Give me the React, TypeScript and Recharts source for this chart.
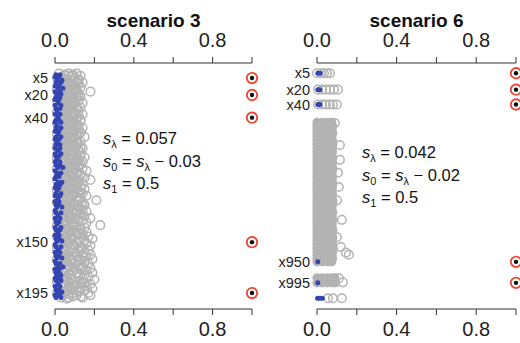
import React from 'react';
import { ScatterChart, Scatter, XAxis, YAxis, Customized } from 'recharts';

const FONT = '"Liberation Sans", Arial, Helvetica, sans-serif';
const GRAY = '#b3b3b3';
const BLUE = '#3444b0';
const RED = '#ec4a36';
const AXIS = '#333333';

// x axis (shared by both panels)
const xTicks = [0, 0.2, 0.4, 0.6, 0.8, 1];
const xTickLabels = ['0.0', '', '0.4', '', '0.8', ''];

// ---------- scenario 3 ----------
const s3TickRows = [5, 20, 40, 150, 195];
const s3TickLabels = ['x5', 'x20', 'x40', 'x150', 'x195'];
const s3SignalRows = [5, 20, 40, 150, 195];
// [variable index, estimates in hundredths...]
const s3Gray = [
  [1, 2, 7, 11], [3, 5, 9, 13], [5, 1, 4, 10], [7, 3, 8, 12], [9, 6, 11, 14],
  [11, 2, 5, 9], [13, 4, 8, 13], [15, 1, 7, 11], [17, 3, 10, 18], [19, 5, 8, 12],
  [21, 2, 6, 13], [23, 4, 9, 11], [25, 1, 7, 12], [27, 6, 10, 14], [29, 3, 5, 9],
  [31, 2, 8, 13], [33, 5, 7, 11], [35, 1, 4, 10], [37, 3, 9, 14], [39, 6, 8, 12],
  [41, 2, 5, 11], [43, 4, 10, 13], [45, 1, 7, 9], [47, 3, 8, 12], [49, 5, 11, 14],
  [51, 2, 6, 10], [53, 4, 9, 13], [55, 1, 7, 12], [57, 6, 8, 15], [59, 3, 5, 11],
  [61, 2, 9, 13], [63, 5, 7, 12], [65, 1, 4, 10], [67, 3, 10, 14], [69, 6, 8, 12],
  [71, 2, 5, 13], [73, 4, 9, 11], [75, 1, 7, 15], [77, 3, 8, 12], [79, 5, 11, 14],
  [81, 2, 6, 13], [83, 4, 10, 12], [85, 1, 7, 14], [87, 6, 9, 16], [89, 3, 5, 11],
  [91, 2, 8, 13], [93, 5, 10, 15], [95, 1, 7, 18], [97, 3, 9, 12], [99, 6, 11, 14],
  [101, 2, 5, 13], [103, 4, 8, 15], [105, 1, 10, 12], [107, 3, 7, 14], [109, 5, 9, 16],
  [111, 2, 6, 13], [113, 4, 11, 21], [115, 1, 8, 14], [117, 6, 10, 15], [119, 3, 5, 12],
  [121, 2, 9, 14], [123, 5, 7, 16], [125, 1, 11, 13], [127, 3, 8, 15], [129, 6, 10, 18],
  [131, 2, 5, 14], [133, 4, 9, 16], [135, 1, 12, 23], [137, 3, 7, 15], [139, 5, 10, 13],
  [141, 2, 8, 16], [143, 4, 11, 14], [145, 1, 6, 17], [147, 3, 9, 19], [149, 6, 12, 15],
  [151, 2, 7, 16], [153, 4, 10, 18], [155, 1, 8, 14], [157, 5, 13, 17], [159, 3, 9, 15],
  [161, 2, 6, 18], [163, 4, 11, 16], [165, 1, 8, 19], [167, 6, 12, 15], [169, 3, 10, 17],
  [171, 2, 7, 14], [173, 5, 13, 18], [175, 1, 9, 16], [177, 4, 11, 19], [179, 3, 8, 15],
  [181, 2, 12, 17], [183, 5, 9, 20], [185, 1, 7, 14], [187, 4, 13, 18], [189, 3, 10, 16],
  [191, 2, 8, 19], [193, 6, 12, 15], [195, 1, 9, 17], [197, 4, 11, 18], [199, 3, 7, 14],
];
const s3GrayExtra = [
  [2, 5, 9], [4, 8], [6, 6, 12], [8, 5], [10, 8, 12], [12, 7], [14, 5, 10], [16, 9], [18, 6, 11], [20, 7],
  [22, 9, 12], [24, 6], [26, 4, 9], [28, 8], [30, 6, 11], [32, 5], [34, 7, 12], [36, 6], [38, 4, 10], [40, 7],
  [42, 8, 13], [44, 6], [46, 5, 11], [48, 9], [50, 7, 12], [52, 4], [54, 6, 11], [56, 9], [58, 5, 10], [60, 7],
  [62, 6, 11], [64, 9], [66, 7, 13], [68, 5], [70, 4, 10], [72, 8], [74, 6, 13], [76, 9], [78, 5, 11], [80, 7],
  [82, 9, 12], [84, 6], [86, 4, 10], [88, 8], [90, 7, 13], [92, 5], [94, 8, 12], [96, 6], [98, 4, 9], [100, 8],
  [102, 7, 11], [104, 5], [106, 6, 13], [108, 9], [110, 4, 11], [112, 8], [114, 6, 12], [116, 5], [118, 8, 14], [120, 7],
  [122, 5, 11], [124, 9], [126, 7, 14], [128, 5], [130, 8, 12], [132, 6], [134, 4, 10], [136, 9], [138, 6, 13], [140, 7],
  [142, 5, 12], [144, 8], [146, 9, 14], [148, 6], [150, 4, 11], [152, 9], [154, 6, 13], [156, 8], [158, 5, 12], [160, 10],
  [162, 7, 14], [164, 5], [166, 9, 13], [168, 6], [170, 4, 12], [172, 8], [174, 6, 14], [176, 9], [178, 7, 12], [180, 5],
  [182, 8, 14], [184, 6], [186, 9, 15], [188, 5], [190, 7, 13], [192, 9], [194, 5, 12], [196, 7], [198, 9, 13], [200, 6],
];
const s3Blue = [
  [2, 0.5, 2.5], [4, 0, 2], [7, 1, 3.5], [9, 0.5, 3], [12, 0, 2], [14, 1.5, 4], [17, 0, 2.5], [19, 1, 3], [22, 0.5, 2.5], [24, 0, 2],
  [27, 1.5], [29, 0, 3], [32, 0.5, 2.5], [34, 1], [37, 0, 2.5], [39, 1.5], [42, 0.5, 2], [44, 0, 3], [47, 1], [49, 0.5, 3],
  [52, 0, 2], [54, 1.5], [57, 0.5, 3], [59, 0, 2], [62, 1], [64, 0.5, 2.5], [67, 0, 2.5], [69, 1.5], [72, 0, 3], [74, 0.5, 2],
  [77, 1], [79, 0, 2.5], [82, 0.5, 2.5], [84, 1.5, 4], [87, 0], [89, 1, 3], [92, 0.5, 2], [94, 0], [97, 1.5, 3.5], [99, 0.5, 2.5],
  [102, 0, 2], [104, 1], [107, 0.5, 3], [109, 0, 2.5], [112, 1.5], [114, 0, 2], [117, 0.5, 2], [119, 1, 3.5], [122, 0], [124, 0.5, 3],
  [127, 1.5], [129, 0, 2.5], [132, 0.5, 2], [134, 1], [137, 0, 3], [139, 0.5, 2.5], [142, 1.5], [144, 0, 2], [147, 0.5, 2], [149, 1, 3.5],
  [152, 0], [154, 0.5, 3], [157, 1.5], [159, 0, 2.5], [162, 0.5, 2], [164, 1, 3.5], [167, 0], [169, 0.5, 2.5], [172, 1.5, 4], [174, 0, 2],
  [177, 0.5, 2], [179, 1, 3], [182, 0, 2.5], [184, 0.5, 3], [187, 1.5], [189, 0, 2.5], [192, 0.5, 2], [194, 1, 3.5], [197, 0, 2.5], [199, 0.5, 3],
];
const s3Lambda = ['0.057'];
const s3Offset = ['0.03'];
const s3S1 = ['0.5'];

// ---------- scenario 6 (plotted row positions) ----------
const s6TickRows = [10, 26, 40.5, 194, 214.5];
const s6TickLabels = ['x5', 'x20', 'x40', 'x950', 'x995'];
const s6SignalRows = [10, 26, 40.5, 194, 214.5];
const s6DenseRows = [
  [58, 0, 2.6, 5.2, 7.4], [61.5, 0, 2.6, 5.2, 7.8], [65, 0, 2.6, 5.2, 7.6], [68.5, 0, 2.6, 5.2, 7.9],
  [72, 0, 2.6, 5.2, 7.5], [75.5, 0, 2.6, 5.2, 7.7], [79, 0, 2.6, 5.2, 8.0], [82.5, 0, 2.6, 5.2, 7.6],
  [86, 0, 2.6, 5.2, 7.8], [89.5, 0, 2.6, 5.2, 7.5], [93, 0, 2.6, 5.2, 7.9], [96.5, 0, 2.6, 5.2, 7.7],
  [100, 0, 2.6, 5.2, 7.6], [103.5, 0, 2.6, 5.2, 8.0], [107, 0, 2.6, 5.2, 7.5], [110.5, 0, 2.6, 5.2, 7.8],
  [114, 0, 2.6, 5.2, 7.6], [117.5, 0, 2.6, 5.2, 7.9], [121, 0, 2.6, 5.2, 7.7], [124.5, 0, 2.6, 5.2, 7.5],
  [128, 0, 2.6, 5.2, 7.8], [131.5, 0, 2.6, 5.2, 7.6], [135, 0, 2.6, 5.2, 8.0], [138.5, 0, 2.6, 5.2, 7.7],
  [142, 0, 2.6, 5.2, 7.5], [145.5, 0, 2.6, 5.2, 7.9], [149, 0, 2.6, 5.2, 7.6], [152.5, 0, 2.6, 5.2, 7.8],
  [156, 0, 2.6, 5.2, 7.7], [159.5, 0, 2.6, 5.2, 7.5], [163, 0, 2.6, 5.2, 8.0], [166.5, 0, 2.6, 5.2, 7.6],
  [170, 0, 2.6, 5.2, 7.9], [173.5, 0, 2.6, 5.2, 7.7], [177, 0, 2.6, 5.2, 7.8], [180.5, 0, 2.6, 5.2, 8.1],
  [184, 0, 2.6, 5.2, 7.9], [187.5, 0, 2.6, 5.2, 7.6], [191, 0, 2.6, 5.2, 7.8], [194, 0, 2.6, 5.2, 7.4],
  [209.5, 0, 2.6, 5.2, 7.6, 9.0], [214.5, 0, 2.6, 5.2, 7.8, 9.4],
];
const s6Gray = [
  [10, 0, 2, 3.5, 5, 6.5], [26, 0.5, 2.5, 4.5, 6.5, 8.5, 10.5], [40.5, 0.5, 2.5, 4.5, 6.5, 8, 10],
  [58.5, 9], [80, 11.5], [94.5, 11.5], [107, 10.5], [121, 11], [134, 10], [153, 12.5],
  [170, 10], [179.5, 12], [185, 14.5], [187, 16],
  [210, 11], [214, 13],
  [229.5, 5.5, 8, 12.5],
];
const s6Blue = [
  [10, 0.4, 1.6], [26, 0.4, 1.4], [40.5, 0.4, 1.4], [194, 0.4], [214.5, 0.4], [229.5, 0.3, 1.5, 2.7],
];
const s6Lambda = ['0.042'];
const s6Offset = ['0.02'];
const s6S1 = ['0.5'];

type Pt = { x: number; y: number };
const toPts = (rows: number[][]): Pt[] =>
  rows.flatMap(([y, ...xs]) => xs.map((v) => ({ x: v / 100, y })));
const signalPts = (rows: number[]): Pt[] => rows.map((y) => ({ x: 1, y }));

const GrayRing = (p: any) => (
  <circle cx={p.cx} cy={p.cy} r={4.3} fill="none" stroke={GRAY} strokeWidth={1.5} />
);
const GrayDisc = (p: any) => <circle cx={p.cx} cy={p.cy} r={4.6} fill={GRAY} />;
const BlueDot = (p: any) => <circle cx={p.cx} cy={p.cy} r={2.5} fill={BLUE} />;
const RedMark = (p: any) => (
  <g>
    <circle cx={p.cx} cy={p.cy} r={5.2} fill="#fff" stroke={RED} strokeWidth={1.9} />
    <circle cx={p.cx} cy={p.cy} r={2.2} fill="#111" />
  </g>
);

const Annotation = ({ x, y, lambda, offset, s1 }: any) => (
  <g fontFamily={FONT} fontSize={16.5} fill="#111">
    <text x={x} y={y}>
      <tspan fontStyle="italic">s</tspan>
      <tspan fontSize={11} dy={4}>λ</tspan>
      <tspan dy={-4}>{' = ' + lambda}</tspan>
    </text>
    <text x={x} y={y + 22.5}>
      <tspan fontStyle="italic">s</tspan>
      <tspan fontSize={11} dy={4}>0</tspan>
      <tspan dy={-4}>{' = '}</tspan>
      <tspan fontStyle="italic">s</tspan>
      <tspan fontSize={11} dy={4}>λ</tspan>
      <tspan dy={-4}>{' − ' + offset}</tspan>
    </text>
    <text x={x} y={y + 44.5}>
      <tspan fontStyle="italic">s</tspan>
      <tspan fontSize={11} dy={4}>1</tspan>
      <tspan dy={-4}>{' = ' + s1}</tspan>
    </text>
  </g>
);

type PanelProps = {
  title: string;
  yAxisWidth: number;
  marginRight: number;
  yDomain: [number, number];
  tickRows: number[];
  tickLabels: string[];
  dense: Pt[];
  gray: Pt[];
  blue: Pt[];
  signals: Pt[];
  ann: { x: number; y: number; lambda: string; offset: string; s1: string };
};

function Panel(props: PanelProps) {
  const W = 260;
  const H = 343;
  const plotLeft = props.yAxisWidth;
  const plotRight = W - props.marginRight;
  const cx = (plotLeft + plotRight) / 2;
  const tickStyle = { fontFamily: FONT, fontSize: 20, fill: '#222' };
  return (
    <ScatterChart
      width={W}
      height={H}
      margin={{ top: 33, right: props.marginRight, bottom: 4, left: 0 }}
    >
      <XAxis
        xAxisId="t"
        orientation="top"
        type="number"
        dataKey="x"
        domain={[0, 1]}
        allowDataOverflow
        ticks={xTicks}
        interval={0}
        tickFormatter={(v: number, i: number) => xTickLabels[i]}
        height={30}
        tickSize={6}
        tickMargin={10}
        stroke={AXIS}
        tick={tickStyle}
      />
      <XAxis
        xAxisId="b"
        orientation="bottom"
        type="number"
        dataKey="x"
        domain={[0, 1]}
        ticks={xTicks}
        interval={0}
        tickFormatter={(v: number, i: number) => xTickLabels[i]}
        height={30}
        tickSize={6}
        tickMargin={7}
        stroke={AXIS}
        tick={tickStyle}
      />
      <YAxis
        type="number"
        dataKey="y"
        reversed
        domain={props.yDomain}
        ticks={props.tickRows}
        interval={0}
        tickFormatter={(v: number, i: number) => props.tickLabels[i]}
        width={props.yAxisWidth}
        axisLine={false}
        tickLine={false}
        tickSize={0}
        tickMargin={7}
        tick={{ fontFamily: FONT, fontSize: 14.5, fill: '#222' }}
      />
      {props.dense.length > 0 && (
        <Scatter xAxisId="b" data={props.dense} shape={GrayDisc} isAnimationActive={false} />
      )}
      <Scatter xAxisId="b" data={props.gray} shape={GrayRing} isAnimationActive={false} />
      <Scatter xAxisId="b" data={props.blue} shape={BlueDot} isAnimationActive={false} />
      <Scatter xAxisId="b" data={props.signals} shape={RedMark} isAnimationActive={false} />
      <Customized
        component={() => (
          <g>
            <text
              x={cx}
              y={27}
              textAnchor="middle"
              fontFamily={FONT}
              fontWeight="bold"
              fontSize={19}
              fill="#111"
            >
              {props.title}
            </text>
            <Annotation {...props.ann} />
          </g>
        )}
      />
    </ScatterChart>
  );
}

export default function App() {
  return (
    <div
      style={{
        position: 'absolute',
        left: 0,
        top: 0,
        width: 520,
        height: 343,
        display: 'flex',
        background: '#fff',
      }}
    >
      <Panel
        title="scenario 3"
        yAxisWidth={55}
        marginRight={8}
        yDomain={[-8.3, 209.1]}
        tickRows={s3TickRows}
        tickLabels={s3TickLabels}
        dense={[]}
        gray={toPts(s3Gray).concat(toPts(s3GrayExtra))}
        blue={toPts(s3Blue)}
        signals={signalPts(s3SignalRows)}
        ann={{ x: 103, y: 144, lambda: s3Lambda[0], offset: s3Offset[0], s1: s3S1[0] }}
      />
      <Panel
        title="scenario 6"
        yAxisWidth={57}
        marginRight={4}
        yDomain={[0, 240]}
        tickRows={s6TickRows}
        tickLabels={s6TickLabels}
        dense={toPts(s6DenseRows)}
        gray={toPts(s6Gray)}
        blue={toPts(s6Blue)}
        signals={signalPts(s6SignalRows)}
        ann={{ x: 102, y: 158, lambda: s6Lambda[0], offset: s6Offset[0], s1: s6S1[0] }}
      />
    </div>
  );
}
